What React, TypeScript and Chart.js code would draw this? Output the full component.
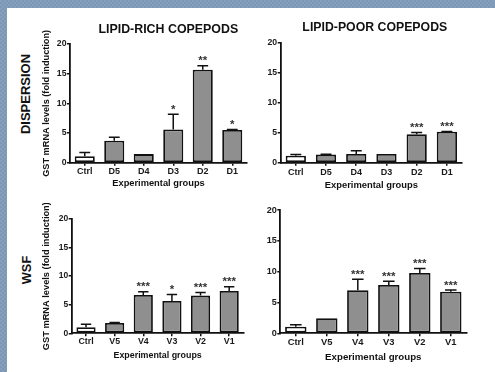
import React, { useEffect, useRef } from 'react';
import { Chart, registerables } from 'chart.js';

Chart.register(...registerables);

const FONT = '"Liberation Sans", Arial, Helvetica, sans-serif';

// ---------- data ----------
const dispersionGroups = ['Ctrl', 'D5', 'D4', 'D3', 'D2', 'D1'];
const wsfGroups = ['Ctrl', 'V5', 'V4', 'V3', 'V2', 'V1'];
const yTickValues = [0, 5, 10, 15, 20];

const richDispMean = [1.1, 3.7, 1.45, 5.6, 15.65, 5.5];
const richDispErr = [0.6, 0.6, 0, 2.55, 0.7, 0.1];
const richDispSig = ['', '', '', '*', '**', '*'];

const poorDispMean = [1.15, 1.35, 1.45, 1.45, 4.75, 5.15];
const poorDispErr = [0.2, 0.05, 0.55, 0, 0.3, 0.05];
const poorDispSig = ['', '', '', '', '***', '***'];

const richWsfMean = [1.05, 1.8, 6.7, 5.65, 6.6, 7.4];
const richWsfErr = [0.55, 0.08, 0.55, 1.15, 0.55, 0.75];
const richWsfSig = ['', '', '***', '*', '***', '***'];

const poorWsfMean = [1.08, 2.43, 7.0, 7.83, 9.78, 6.75];
const poorWsfErr = [0.3, 0, 1.75, 0.6, 0.75, 0.27];
const poorWsfSig = ['', '', '***', '***', '***', '***'];

const columnTitles = ['LIPID-RICH COPEPODS', 'LIPID-POOR COPEPODS'];
const rowTitles = ['DISPERSION', 'WSF'];
const yAxisTitle = 'GST mRNA levels (fold induction)';
const xAxisTitle = 'Experimental groups';

// ---------- layout ----------
type PanelCfg = {
  labels: string[];
  means: number[];
  errs: number[];
  sig: string[];
  box: { left: number; top: number; width: number; height: number };
  area: { left: number; top: number; right: number; bottom: number };
  yTitle: null | { size: number; pad: number };
  xTitle: { size: number; pad: number };
  tickSize: number;
  tickPad: number;
  barPct: number;
};

const panels: PanelCfg[] = [
  {
    labels: dispersionGroups, means: richDispMean, errs: richDispErr, sig: richDispSig,
    box: { left: 35, top: 30, width: 214, height: 160 },
    area: { left: 70, top: 44, right: 247, bottom: 162.7 },
    yTitle: { size: 9.2, pad: 6.4 },
    xTitle: { size: 9.3, pad: 1.4 },
    tickSize: 9, tickPad: 0, barPct: 0.68,
  },
  {
    labels: dispersionGroups, means: poorDispMean, errs: poorDispErr, sig: poorDispSig,
    box: { left: 262, top: 30, width: 208, height: 162 },
    area: { left: 280.7, top: 42.7, right: 462, bottom: 162.7 },
    yTitle: null,
    xTitle: { size: 9.4, pad: 1.4 },
    tickSize: 9, tickPad: 1.4, barPct: 0.67,
  },
  {
    labels: wsfGroups, means: richWsfMean, errs: richWsfErr, sig: richWsfSig,
    box: { left: 35, top: 203, width: 214, height: 159 },
    area: { left: 71.7, top: 219, right: 243.5, bottom: 333.3 },
    yTitle: { size: 9.25, pad: 6.1 },
    xTitle: { size: 8.9, pad: 1.6 },
    tickSize: 8.8, tickPad: 0, barPct: 0.67,
  },
  {
    labels: wsfGroups, means: poorWsfMean, errs: poorWsfErr, sig: poorWsfSig,
    box: { left: 262, top: 195, width: 213, height: 170 },
    area: { left: 280.3, top: 210, right: 466.3, bottom: 333.3 },
    yTitle: null,
    xTitle: { size: 9.7, pad: 1.9 },
    tickSize: 9.4, tickPad: 0.5, barPct: 0.69,
  },
];

function BarPanel({ cfg }: { cfg: PanelCfg }) {
  const ref = useRef<HTMLCanvasElement>(null);

  useEffect(() => {
    const c = cfg;
    const yW = c.area.left - c.box.left;
    const xH = c.box.top + c.box.height - c.area.bottom;
    const padTop = c.area.top - c.box.top;
    const padRight = c.box.left + c.box.width - c.area.right;

    const errPlugin = {
      id: 'errAndSig',
      afterDatasetsDraw(chart: any) {
        const ctx = chart.ctx as CanvasRenderingContext2D;
        const meta = chart.getDatasetMeta(0);
        const ys = chart.scales.y;
        ctx.save();
        meta.data.forEach((bar: any, i: number) => {
          const m = c.means[i];
          const e = c.errs[i];
          const x = bar.x;
          const yTop = ys.getPixelForValue(m + e);
          if (e > 0) {
            const hw = bar.width * 0.27;
            ctx.strokeStyle = '#111';
            ctx.lineWidth = 1.5;
            ctx.beginPath();
            ctx.moveTo(x, bar.y);
            ctx.lineTo(x, yTop);
            ctx.moveTo(x - hw, yTop);
            ctx.lineTo(x + hw, yTop);
            ctx.stroke();
          }
          if (c.sig[i]) {
            ctx.fillStyle = '#333';
            ctx.font = `bold 11.5px ${FONT}`;
            ctx.textAlign = 'center';
            ctx.textBaseline = 'alphabetic';
            ctx.fillText(c.sig[i], x, yTop - 1.5);
          }
        });
        ctx.restore();
      },
    };

    const chart = new Chart(ref.current as HTMLCanvasElement, {
      type: 'bar',
      data: {
        labels: c.labels,
        datasets: [
          {
            data: c.means,
            backgroundColor: c.labels.map((l) => (l === 'Ctrl' ? '#ffffff' : '#8f8f8f')),
            borderColor: '#111',
            borderWidth: 1.8,
            borderSkipped: false,
            barPercentage: c.barPct,
            categoryPercentage: 1,
          },
        ],
      },
      options: {
        animation: false,
        responsive: false,
        devicePixelRatio: 1,
        layout: { padding: { top: padTop, right: padRight, bottom: 0, left: 0 } },
        plugins: { legend: { display: false }, tooltip: { enabled: false }, title: { display: false } },
        scales: {
          x: {
            type: 'category',
            offset: true,
            grid: {
              display: true,
              drawOnChartArea: false,
              drawTicks: true,
              tickLength: 3,
              offset: false,
              color: '#111',
              lineWidth: 1.5,
            },
            border: { display: true, color: '#111', width: 1.8 },
            ticks: {
              color: '#1a1a1a',
              padding: c.tickPad,
              font: { family: FONT, size: c.tickSize, weight: 'bold' },
              maxRotation: 0,
              autoSkip: false,
            },
            title: {
              display: true,
              text: xAxisTitle,
              color: '#111',
              font: { family: FONT, size: c.xTitle.size, weight: 'bold' },
              padding: { top: 0, bottom: c.xTitle.pad },
            },
            afterFit: (s: any) => {
              s.height = xH;
            },
          },
          y: {
            min: 0,
            max: 20,
            afterBuildTicks: (s: any) => {
              s.ticks = yTickValues.map((v) => ({ value: v }));
            },
            grid: {
              display: true,
              drawOnChartArea: false,
              drawTicks: true,
              tickLength: 3,
              color: '#111',
              lineWidth: 1.5,
            },
            border: { display: true, color: '#111', width: 1.8 },
            ticks: {
              color: '#1a1a1a',
              padding: 0.5,
              font: { family: FONT, size: c.tickSize - 0.3, weight: 'bold' },
            },
            title: c.yTitle
              ? {
                  display: true,
                  text: yAxisTitle,
                  color: '#111',
                  font: { family: FONT, size: c.yTitle.size, weight: 'bold' },
                  padding: { top: c.yTitle.pad, bottom: 0 },
                }
              : { display: false },
            afterFit: (s: any) => {
              s.width = yW;
            },
          },
        },
      } as any,
      plugins: [errPlugin],
    });
    return () => chart.destroy();
  }, [cfg]);

  return (
    <canvas
      ref={ref}
      width={cfg.box.width}
      height={cfg.box.height}
      style={{
        position: 'absolute',
        left: cfg.box.left,
        top: cfg.box.top,
        width: cfg.box.width,
        height: cfg.box.height,
      }}
    />
  );
}

function Label({ text, x, y, size, rotate }: { text: string; x: number; y: number; size: number; rotate?: boolean }) {
  return (
    <div
      style={{
        position: 'absolute',
        left: x,
        top: y,
        transform: `translate(-50%, -50%)${rotate ? ' rotate(-90deg)' : ''}`,
        whiteSpace: 'nowrap',
        fontFamily: FONT,
        fontWeight: 'bold',
        fontSize: size,
        lineHeight: 1,
        color: '#111',
      }}
    >
      {text}
    </div>
  );
}

export default function App() {
  return (
    <div
      style={{
        position: 'absolute',
        left: 0,
        top: 0,
        width: 495,
        height: 372,
        overflow: 'hidden',
        background: 'repeating-conic-gradient(#7c97b6 0 25%, #859fbc 0 50%) 0 0 / 4px 4px',
      }}
    >
      <div style={{ position: 'absolute', left: 7, top: 8, width: 488, height: 364, background: '#ffffff' }} />
      {panels.map((p, i) => (
        <BarPanel key={i} cfg={p} />
      ))}
      <Label text={columnTitles[0]} x={168.3} y={29} size={12.4} />
      <Label text={columnTitles[1]} x={374.8} y={27.3} size={12.3} />
      <Label text={rowTitles[0]} x={25} y={94} size={13} rotate />
      <Label text={rowTitles[1]} x={26.7} y={270} size={12.8} rotate />
    </div>
  );
}
